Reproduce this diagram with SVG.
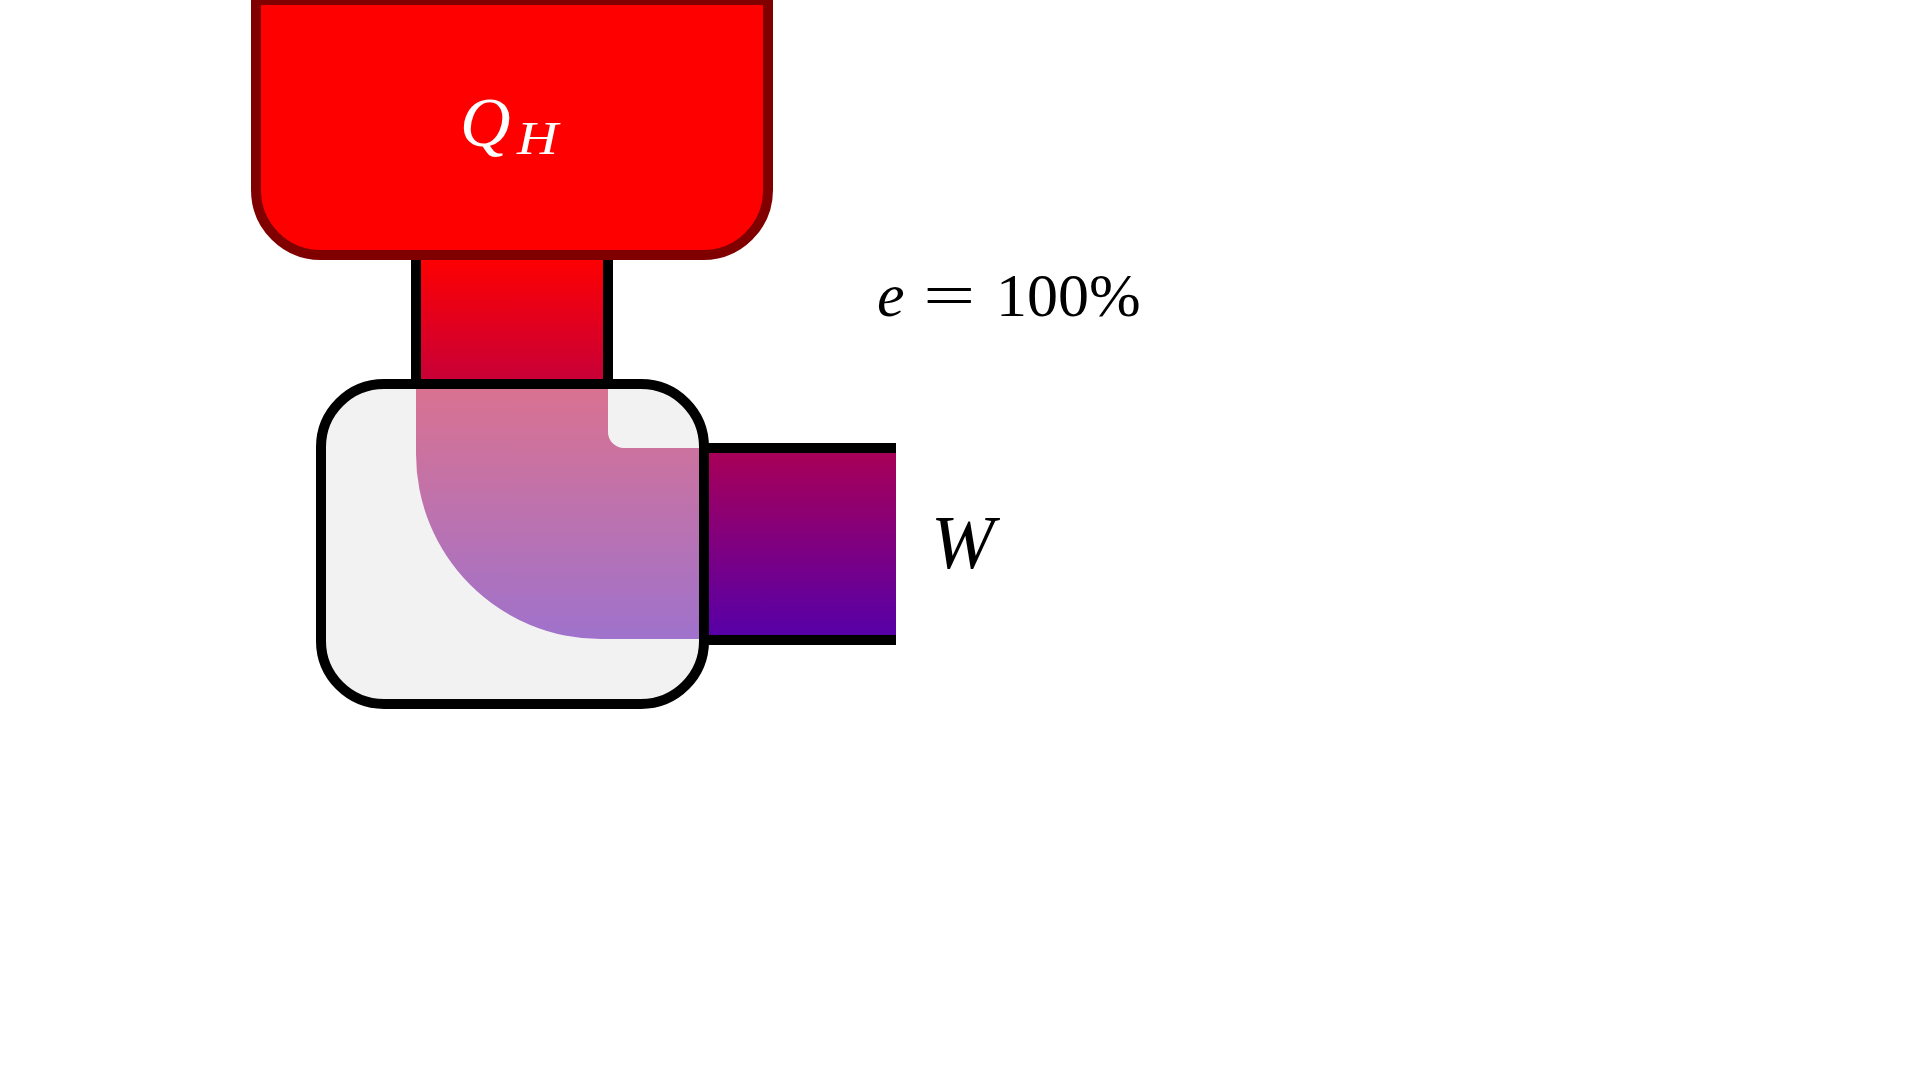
<svg xmlns="http://www.w3.org/2000/svg" width="1920" height="1080" viewBox="0 0 1920 1080">
<defs>
<linearGradient id="flowGrad" gradientUnits="userSpaceOnUse" x1="0" y1="255" x2="0" y2="640">
<stop offset="0" stop-color="#ff0000"/>
<stop offset="1" stop-color="#5500aa"/>
</linearGradient>
<style>
.pipeLine{stroke:#000;stroke-width:10;fill:none}
.math{font-family:"Liberation Serif","DejaVu Serif",serif}
.it{font-style:italic}
</style>
</defs>
<rect width="1920" height="1080" fill="#ffffff"/>
<g id="connectors">
<g id="pipe-heat">
<rect x="416" y="250" width="192" height="134" fill="url(#flowGrad)"/>
<line class="pipeLine" x1="416" y1="250" x2="416" y2="384"/>
<line class="pipeLine" x1="608" y1="250" x2="608" y2="384"/>
</g>
<g id="pipe-work">
<rect x="704" y="448" width="192" height="192" fill="url(#flowGrad)"/>
<line class="pipeLine" x1="704" y1="448" x2="896" y2="448"/>
<line class="pipeLine" x1="704" y1="640" x2="896" y2="640"/>
</g>
</g>
<g id="hot-reservoir">
<path d="M256,-10 V190 A65,65 0 0 0 321,255 H703 A65,65 0 0 0 768,190 V-10" fill="#ff0000" stroke="#800000" stroke-width="10"/>
<line x1="256" y1="0" x2="768" y2="0" stroke="#800000" stroke-width="10"/>
<text class="math it" x="460" y="146" font-size="70" fill="#ffffff">Q</text>
<text class="math it" x="517" y="154" font-size="46" fill="#ffffff" textLength="41" lengthAdjust="spacingAndGlyphs">H</text>
</g>
<g id="engine">
<rect x="321" y="384" width="383" height="320" rx="63" ry="63" fill="#f2f2f2"/>
<path d="M416,389 H608 V432 A16,16 0 0 0 624,448 H699 V639 H601 A185,185 0 0 1 416,454 Z" fill="url(#flowGrad)" fill-opacity="0.53"/>
<rect x="321" y="384" width="383" height="320" rx="63" ry="63" fill="none" stroke="#000" stroke-width="10"/>
</g>
<g id="work-label">
<text class="math it" x="931" y="568" font-size="76" fill="#000">W</text>
</g>
<g id="efficiency-label">
<text class="math it" x="877" y="316" font-size="62" fill="#000">e</text>
<text class="math" x="0" y="0" font-size="62" fill="#000" transform="translate(923,316) scale(1.5,1)">=</text>
<text class="math" x="996" y="316" font-size="62" fill="#000">100%</text>
</g>
</svg>
